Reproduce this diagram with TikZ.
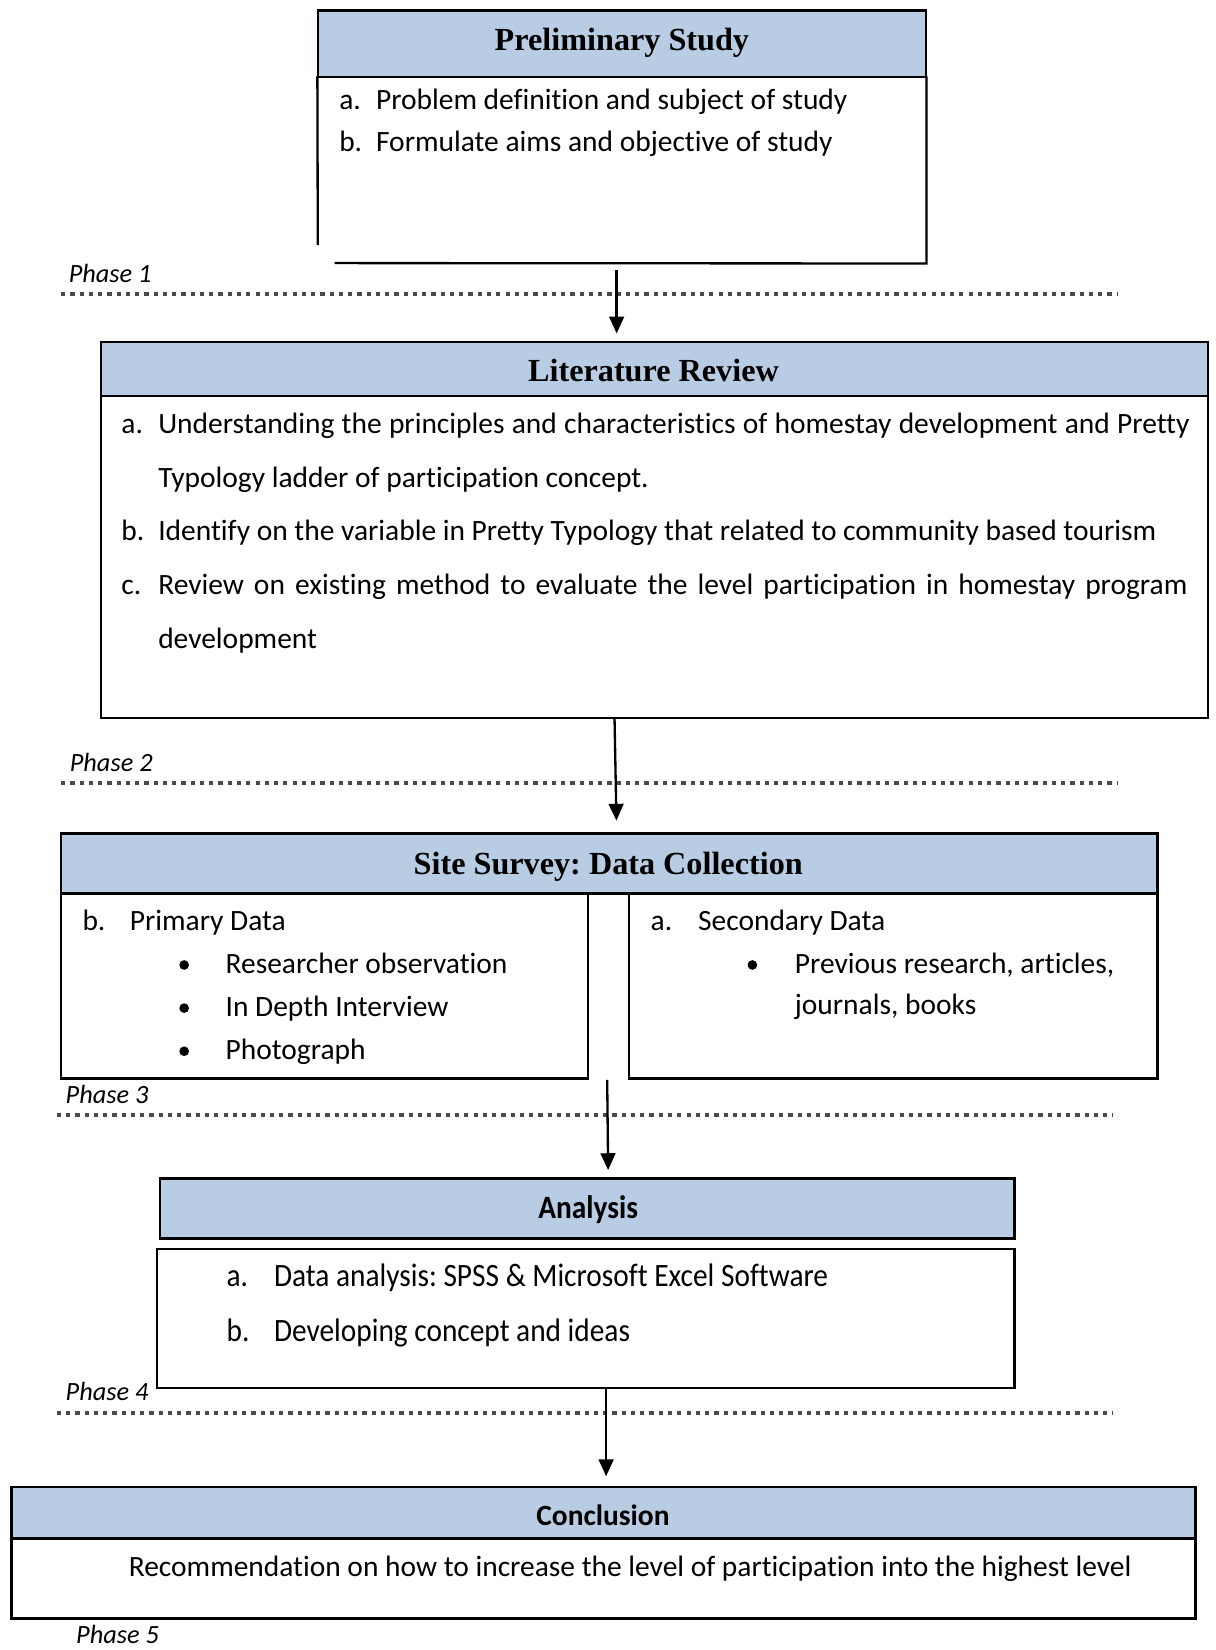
\documentclass[tikz,border=0pt]{standalone}
\usepackage{fontspec}
\setmainfont[Ligatures=NoCommon]{Carlito}
\newfontfamily\tnr{Liberation Serif}
\newfontfamily\cond[FakeStretch=0.9,Ligatures=NoCommon]{Carlito}
\usetikzlibrary{arrows.meta,fit,calc}
\definecolor{hdrblue}{HTML}{B8CCE4}
\definecolor{dotgray}{HTML}{4A4A4A}
\frenchspacing
\begin{document}
\begin{tikzpicture}[x=0.5pt,y=-0.5pt,
  hdr/.style={draw=black, line width=1.1pt, fill=hdrblue, inner sep=0pt},
  body/.style={draw=black, line width=1.1pt, inner sep=0pt},
  ghost/.style={inner sep=0pt},
  ttl/.style={anchor=base, inner sep=0pt, font=\tnr\bfseries\fontsize{15.3}{18}\selectfont},
  ttlc/.style={anchor=base, inner sep=0pt, font=\bfseries\fontsize{14}{17}\selectfont},
  txt/.style={anchor=base west, inner sep=0pt, font=\fontsize{14}{17}\selectfont},
  ctxt/.style={anchor=base west, inner sep=0pt, font=\cond\fontsize{15.5}{18}\selectfont},
  phase/.style={anchor=base west, inner sep=0pt, font=\itshape\fontsize{12.5}{15}\selectfont},
  dotline/.style={draw=dotgray, line width=1.9pt, dash pattern=on 2pt off 2.4pt},
  bul/.style={circle, fill=black, inner sep=0pt, minimum size=4.6pt},
  arr/.style={line width=1.1pt, -{Triangle[width=7pt,length=8pt]}}
]
\useasboundingbox (0,0) rectangle (1155,1568);

% ---------- Preliminary Study ----------
\node[hdr, fit={(302,10) (880,73)}] (prelimH) {};
\node[ghost, fit={(302,73) (880,250)}] (prelimB) {};
\draw[line width=1.1pt] (prelimB.north west) -- (302,233);
\draw[line width=1.1pt] (318,250) -- (prelimB.south east) -- (prelimB.north east);
\node[ttl] (prelimT) at (591,48) {Preliminary Study};
\node[txt] (p1l) at (322,104) {a.};
\node[txt] (p1) at (357,104) {Problem definition and subject of study};
\node[txt] (p2l) at (322,144) {b.};
\node[txt] (p2) at (357,144) {Formulate aims and objective of study};

\node[phase] (ph1) at (65,268) {Phase 1};
\coordinate (d1a) at (58,279);
\coordinate (d1b) at (1062,279);
\draw[dotline] (d1a) -- (d1b);

% ---------- Literature Review ----------
\node[hdr, fit={(96,325) (1148,376)}] (litH) {};
\node[body, fit={(96,376) (1148,682)}] (litB) {};
\node[ttl] (litT) at (621,363) {Literature Review};
\node[txt] (l1l) at (115,412) {a.};
\node[txt] (l1) at (150,412) {\makebox[490pt][s]{Understanding the principles and characteristics of homestay development and Pretty}};
\node[txt] (l1b) at (150,463) {Typology ladder of participation concept.};
\node[txt] (l2l) at (115,514) {b.};
\node[txt] (l2) at (150,514) {Identify on the variable in Pretty Typology that related to community based tourism};
\node[txt] (l3l) at (115,565) {c.};
\node[txt] (l3) at (150,565) {\makebox[489pt][s]{Review on existing method to evaluate the level participation in homestay program}};
\node[txt] (l3b) at (150,616) {development};

\node[phase] (ph2) at (66,733) {Phase 2};
\coordinate (d2a) at (58,744);
\coordinate (d2b) at (1062,744);
\draw[dotline] (d2a) -- (d2b);

% ---------- Site Survey ----------
\node[hdr, fit={(58,792) (1100,849)}] (siteH) {};
\node[body, fit={(58,849) (559,1025)}] (siteL) {};
\node[body, fit={(598,849) (1100,1025)}] (siteR) {};
\node[ttl] (siteT) at (578,831) {Site Survey: Data Collection};
\node[txt] (s1l) at (78,884) {b.};
\node[txt] (s1) at (123,884) {Primary Data};
\node[bul] (b1) at (175,917) {};
\node[txt] (s11) at (214,925) {Researcher observation};
\node[bul] (b2) at (175,958) {};
\node[txt] (s12) at (214,966) {In Depth Interview};
\node[bul] (b3) at (175,999) {};
\node[txt] (s13) at (214,1007) {Photograph};
\node[txt] (s2l) at (618,884) {a.};
\node[txt] (s2) at (663,884) {Secondary Data};
\node[bul] (b4) at (715,917) {};
\node[txt] (s21) at (755,925) {Previous research, articles,};
\node[txt] (s22) at (755,964) {journals, books};

\node[phase] (ph3) at (62,1049) {Phase 3};
\coordinate (d3a) at (54,1060);
\coordinate (d3b) at (1058,1060);
\draw[dotline] (d3a) -- (d3b);

% ---------- Analysis ----------
\node[hdr, fit={(152,1120) (964,1177)}] (anH) {};
\node[body, fit={(149,1187) (964,1319)}] (anB) {};
\node[ttlc] (anT) at (559,1158) {\cond\fontsize{15.5}{18}\selectfont Analysis};
\node[ctxt] (a1l) at (215,1223) {a.};
\node[ctxt] (a1) at (260,1223) {Data analysis: SPSS \& Microsoft Excel Software};
\node[ctxt] (a2l) at (215,1275) {b.};
\node[ctxt] (a2) at (260,1275) {Developing concept and ideas};

\node[phase] (ph4) at (62,1331) {Phase 4};
\coordinate (d4a) at (54,1343);
\coordinate (d4b) at (1058,1343);
\draw[dotline] (d4a) -- (d4b);

% ---------- Conclusion ----------
\node[hdr, fit={(11,1413) (1136,1462)}] (coH) {};
\node[body, fit={(11,1462) (1136,1538)}] (coB) {};
\node[ttlc] (coT) at (573,1450) {Conclusion};
\node[txt] (c1) at (122,1498) {Recommendation on how to increase the level of participation into the highest level};

\node[phase] (ph5) at (72,1562) {Phase 5};

% ---------- arrows ----------
\draw[arr, shorten <=3pt, shorten >=3.5pt] (586,0 |- prelimB.south) -- (586,0 |- litH.north);
\draw[arr, shorten >=5.5pt] (584,0 |- litB.south) -- (586,0 |- siteH.north);
\draw[arr, shorten >=3.5pt] (577,0 |- siteL.south) -- (578,0 |- anH.north);
\draw[arr, shorten >=4.5pt] (576,0 |- anB.south) -- (576,0 |- coH.north);
\end{tikzpicture}
\end{document}
